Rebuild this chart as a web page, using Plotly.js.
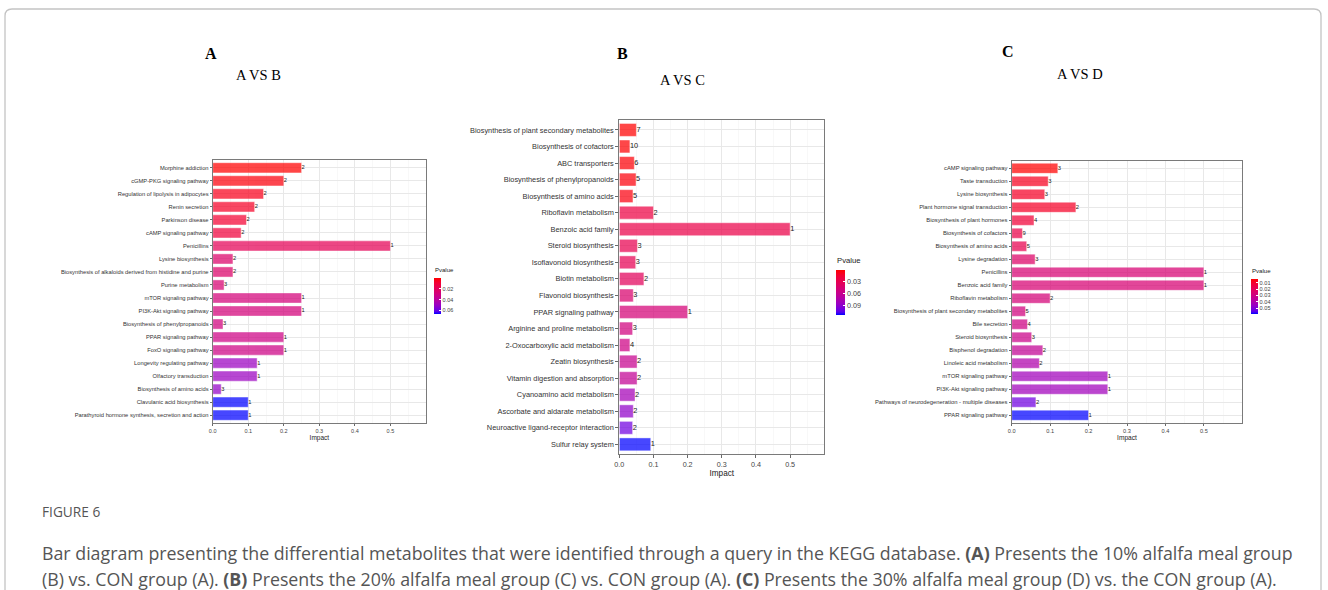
<!DOCTYPE html>
<html>
<head>
<meta charset="utf-8">
<script src="https://cdn.plot.ly/plotly-3.0.1.min.js"></script>
<style>
html,body{margin:0;padding:0;background:#fff;}
#fig{width:1328px;height:590px;}
</style>
</head>
<body>
<div id="fig"></div>
<script>
// ---- Panel A: A VS B ----
const catsA = [
  'Morphine addiction','cGMP-PKG signaling pathway','Regulation of lipolysis in adipocytes','Renin secretion',
  'Parkinson disease','cAMP signaling pathway','Penicillins','Lysine biosynthesis',
  'Biosynthesis of alkaloids derived from histidine and purine','Purine metabolism','mTOR signaling pathway',
  'PI3K-Akt signaling pathway','Biosynthesis of phenylpropanoids','PPAR signaling pathway','FoxO signaling pathway',
  'Longevity regulating pathway','Olfactory transduction','Biosynthesis of amino acids','Clavulanic acid biosynthesis',
  'Parathyroid hormone synthesis, secretion and action'
];
const impactA = [0.25,0.2,0.143,0.118,0.095,0.08,0.5,0.057,0.057,0.032,0.25,0.25,0.029,0.2,0.2,0.125,0.125,0.024,0.1,0.1];
const countA  = [2,2,2,2,2,2,1,2,2,3,1,1,3,1,1,1,1,3,1,1];
const pvalA   = [0.0005,0.0025,0.0052,0.0072,0.0091,0.0118,0.0191,0.0244,0.0244,0.0271,0.0291,0.0291,0.0304,0.0324,0.0324,0.0497,0.0497,0.0517,0.0670,0.0670];
const pTicksA = [0.02, 0.04, 0.06];

// ---- Panel B: A VS C ----
const catsB = [
  'Biosynthesis of plant secondary metabolites','Biosynthesis of cofactors','ABC transporters',
  'Biosynthesis of phenylpropanoids','Biosynthesis of amino acids','Riboflavin metabolism','Benzoic acid family',
  'Steroid biosynthesis','Isoflavonoid biosynthesis','Biotin metabolism','Flavonoid biosynthesis',
  'PPAR signaling pathway','Arginine and proline metabolism','2-Oxocarboxylic acid metabolism','Zeatin biosynthesis',
  'Vitamin digestion and absorption','Cyanoamino acid metabolism','Ascorbate and aldarate metabolism',
  'Neuroactive ligand-receptor interaction','Sulfur relay system'
];
const impactB = [0.05,0.031,0.044,0.049,0.04,0.1,0.5,0.053,0.048,0.072,0.041,0.2,0.039,0.031,0.052,0.052,0.046,0.041,0.039,0.092];
const countB  = [7,10,6,5,5,2,1,3,3,2,3,1,3,4,2,2,2,2,2,1];
const pvalB   = [0.0003,0.0014,0.0026,0.0037,0.0048,0.0229,0.0252,0.0286,0.0308,0.0342,0.0432,0.0478,0.0512,0.0545,0.0591,0.0625,0.0794,0.0884,0.0997,0.1133];
const pTicksB = [0.03, 0.06, 0.09];

// ---- Panel C: A VS D ----
const catsC = [
  'cAMP signaling pathway','Taste transduction','Lysine biosynthesis','Plant hormone signal transduction',
  'Biosynthesis of plant hormones','Biosynthesis of cofactors','Biosynthesis of amino acids','Lysine degradation',
  'Penicillins','Benzoic acid family','Riboflavin metabolism','Biosynthesis of plant secondary metabolites',
  'Bile secretion','Steroid biosynthesis','Bisphenol degradation','Linoleic acid metabolism','mTOR signaling pathway',
  'PI3K-Akt signaling pathway','Pathways of neurodegeneration - multiple diseases','PPAR signaling pathway'
];
const impactC = [0.12,0.095,0.086,0.167,0.058,0.028,0.039,0.061,0.5,0.5,0.1,0.036,0.041,0.052,0.081,0.072,0.25,0.25,0.063,0.2];
const countC  = [3,3,3,2,4,9,5,3,1,1,2,5,4,3,2,2,1,1,2,1];
const pvalC   = [0.0042,0.0086,0.0097,0.0097,0.0125,0.0163,0.0180,0.0235,0.0263,0.0263,0.0274,0.0290,0.0301,0.0318,0.0346,0.0401,0.0439,0.0439,0.0528,0.0594];
const pTicksC = [0.01, 0.02, 0.03, 0.04, 0.05];

const impactTicks = [0, 0.1, 0.2, 0.3, 0.4, 0.5];
const impactMinor = [0.05, 0.15, 0.25, 0.35, 0.45, 0.55];

// blue -> red gradient interpolated in Lab space (applied to -Pvalue so small P is red, on top of the bar)
const blueRed = [
  [0,'rgb(0,0,255)'],[0.0625,'rgb(83,0,240)'],[0.125,'rgb(115,0,224)'],[0.25,'rgb(154,0,195)'],
  [0.375,'rgb(181,0,165)'],[0.5,'rgb(202,0,137)'],[0.625,'rgb(218,0,108)'],[0.75,'rgb(232,0,79)'],
  [0.875,'rgb(244,0,49)'],[1,'rgb(255,0,0)']
];

const W = 1328, H = 590;
const px = x => x / W;
const py = y => 1 - y / H;
const FONT = 'Liberation Sans, Arial, sans-serif';
const SERIF = 'Liberation Serif, Times New Roman, serif';

const traces = [];
const layout = {
  width: W, height: H,
  margin: {l:0, r:0, t:0, b:0},
  paper_bgcolor: '#fff', plot_bgcolor: '#fff',
  showlegend: false, bargap: 0.22,
  annotations: [], shapes: []
};

function addPanel(i, cats, impact, counts, pv, pTicks, cfg) {
  const sx = i === 1 ? '' : String(i);
  const xa = 'x' + sx, ya = 'y' + sx, ca = 'coloraxis' + sx;
  traces.push({
    type: 'bar', orientation: 'h', x: impact, y: cats, xaxis: xa, yaxis: ya,
    marker: {color: pv.map(v => -v), coloraxis: ca, opacity: 0.72,
             line: {color: 'rgba(255,255,255,0.55)', width: 0.8}},
    hoverinfo: 'skip'
  });
  traces.push({
    type: 'scatter', mode: 'text', x: impact, y: cats, xaxis: xa, yaxis: ya,
    text: counts.map(String), textposition: 'middle right',
    textfont: {family: FONT, size: cfg.fs, color: '#1a1a1a'},
    cliponaxis: false, hoverinfo: 'skip'
  });
  layout['xaxis' + sx] = {
    domain: [px(cfg.x0), px(cfg.x1)], anchor: ya, range: [0, 0.6],
    tickmode: 'array', tickvals: impactTicks, ticktext: impactTicks.map(v => v.toFixed(1)),
    showgrid: true, gridcolor: '#e8e8e8', gridwidth: 1,
    minor: {tickvals: impactMinor, showgrid: true, gridcolor: '#f3f3f3', gridwidth: 0.6, ticks: ''},
    zeroline: false, showline: true, mirror: true, linecolor: '#7a7a7a', linewidth: 1,
    ticks: 'outside', ticklen: cfg.tl, tickcolor: '#444', tickwidth: 0.8,
    tickfont: {family: FONT, size: cfg.xfs, color: '#444'},
    title: {text: 'Impact', font: {family: FONT, size: cfg.xfs + 1, color: '#222'}, standoff: cfg.so},
    fixedrange: true
  };
  layout['yaxis' + sx] = {
    domain: [py(cfg.y1), py(cfg.y0)], anchor: xa, type: 'category',
    categoryorder: 'array', categoryarray: cats, range: [cats.length - 0.4, -0.6],
    showgrid: true, gridcolor: '#e8e8e8', gridwidth: 1, zeroline: false,
    showline: true, mirror: true, linecolor: '#7a7a7a', linewidth: 1,
    ticks: 'outside', ticklen: cfg.tl, tickcolor: '#444', tickwidth: 0.8,
    tickfont: {family: FONT, size: cfg.fs, color: '#333'}, fixedrange: true
  };
  layout[ca] = {
    colorscale: blueRed,
    colorbar: {
      x: px(cfg.cbx), xanchor: 'left', y: py(cfg.cby), yanchor: 'top',
      len: cfg.cblen, lenmode: 'pixels', thickness: cfg.cbth, thicknessmode: 'pixels',
      outlinewidth: 0, xpad: 0, ypad: 0,
      tickmode: 'array', tickvals: pTicks.map(v => -v), ticktext: pTicks.map(v => v.toFixed(2)),
      ticks: 'inside', ticklen: 2, tickcolor: '#fff',
      tickfont: {family: FONT, size: cfg.xfs, color: '#444'}
    }
  };
  layout.annotations.push({
    xref: 'paper', yref: 'paper', x: px(cfg.cbx - 1), y: py(cfg.cby - 3), xanchor: 'left', yanchor: 'bottom',
    text: 'Pvalue', showarrow: false, font: {family: FONT, size: cfg.xfs + 0.5, color: '#222'}
  });
  layout.annotations.push({
    xref: 'paper', yref: 'paper', x: px(cfg.lx), y: py(cfg.ly), xanchor: 'center', yanchor: 'middle',
    text: '<b>' + cfg.letter + '</b>', showarrow: false, font: {family: SERIF, size: 16, color: '#000'}
  });
  layout.annotations.push({
    xref: 'paper', yref: 'paper', x: px(cfg.tx), y: py(cfg.ty), xanchor: 'center', yanchor: 'middle',
    text: cfg.title, showarrow: false, font: {family: SERIF, size: 14.5, color: '#000'}
  });
}

addPanel(1, catsA, impactA, countA, pvalA, pTicksA,
  {x0: 212.7, x1: 426, y0: 160, y1: 423, fs: 5.75, xfs: 5.5, tl: 2, so: 1,
   cbx: 434.3, cby: 278.3, cblen: 36, cbth: 7,
   letter: 'A', lx: 211, ly: 53, title: 'A VS B', tx: 258, ty: 75});
addPanel(2, catsB, impactB, countB, pvalB, pTicksB,
  {x0: 619.3, x1: 824.3, y0: 120, y1: 454.3, fs: 7.4, xfs: 7.2, tl: 3, so: 1,
   cbx: 835.7, cby: 270, cblen: 45, cbth: 8.6,
   letter: 'B', lx: 622, ly: 53, title: 'A VS C', tx: 683, ty: 80});
addPanel(3, catsC, impactC, countC, pvalC, pTicksC,
  {x0: 1011.7, x1: 1242.3, y0: 160.5, y1: 423, fs: 5.85, xfs: 5.6, tl: 2, so: 1,
   cbx: 1251, cby: 279, cblen: 35.3, cbth: 6.7,
   letter: 'C', lx: 1008, ly: 52, title: 'A VS D', tx: 1080, ty: 74});

// figure caption
const capFont = 'Open Sans, Noto Sans, sans-serif';
layout.annotations.push({
  xref: 'paper', yref: 'paper', x: px(40), y: py(511), xanchor: 'left', yanchor: 'middle',
  text: 'FIGURE 6', showarrow: false, font: {family: capFont, size: 13.7, color: '#555'}
});
layout.annotations.push({
  xref: 'paper', yref: 'paper', x: px(40), y: py(553), xanchor: 'left', yanchor: 'middle', align: 'left',
  text: 'Bar diagram presenting the differential metabolites that were identified through a query in the KEGG database. <b>(A)</b> Presents the 10% alfalfa meal group',
  showarrow: false, font: {family: capFont, size: 17.8, color: '#555'}
});
layout.annotations.push({
  xref: 'paper', yref: 'paper', x: px(40), y: py(579), xanchor: 'left', yanchor: 'middle', align: 'left',
  text: '(B) vs. CON group (A). <b>(B)</b> Presents the 20% alfalfa meal group (C) vs. CON group (A). <b>(C)</b> Presents the 30% alfalfa meal group (D) vs. the CON group (A).',
  showarrow: false, font: {family: capFont, size: 17.8, color: '#555'}
});

// outer rounded frame
const fx0 = px(5), fx1 = px(1321), fy0 = py(9), fyb = -0.05;
const rx = px(7), ry = 7 / H;
layout.shapes.push({
  type: 'path', xref: 'paper', yref: 'paper',
  path: `M ${fx0} ${fyb} L ${fx0} ${fy0 - ry} Q ${fx0} ${fy0} ${fx0 + rx} ${fy0} L ${fx1 - rx} ${fy0} Q ${fx1} ${fy0} ${fx1} ${fy0 - ry} L ${fx1} ${fyb}`,
  line: {color: '#c4c4c4', width: 1.3}
});

Plotly.newPlot('fig', traces, layout, {staticPlot: true, displayModeBar: false});
</script>
</body>
</html>
